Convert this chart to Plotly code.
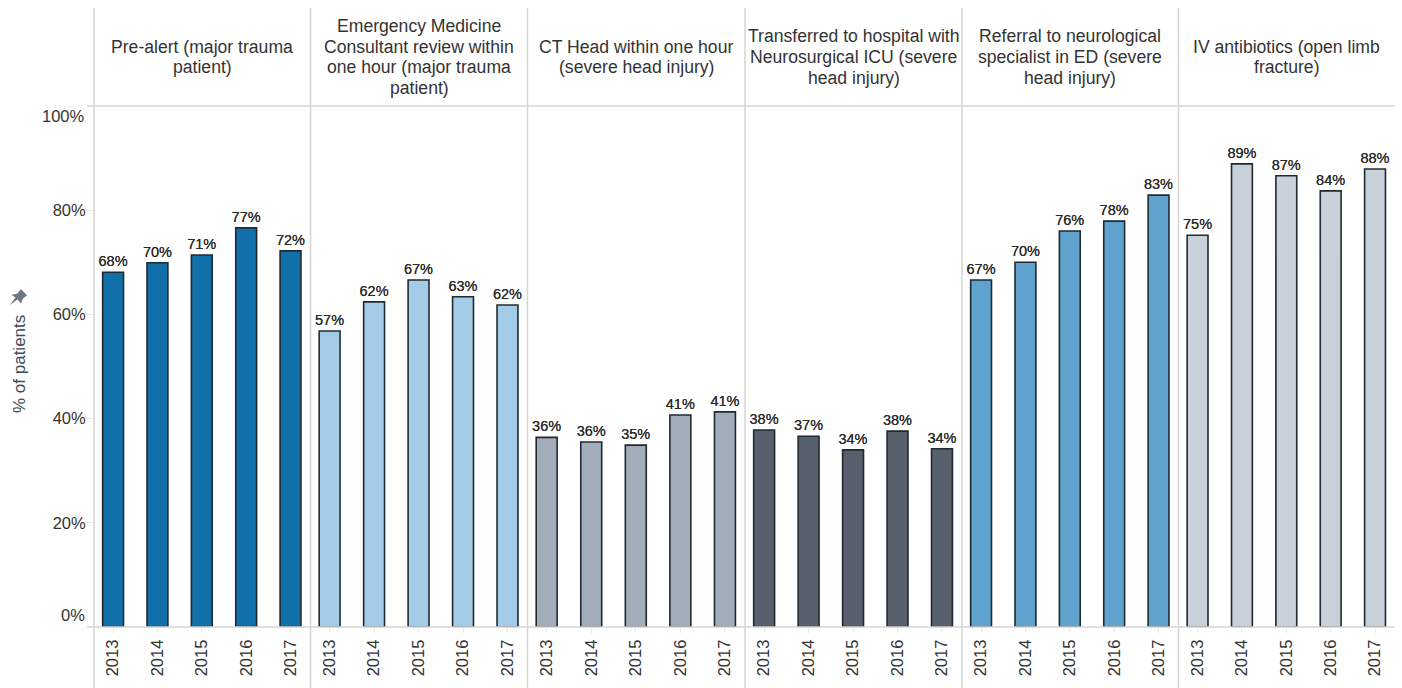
import plotly.graph_objects as go

years = ["2013", "2014", "2015", "2016", "2017"]
titles = [
    ["Pre-alert (major trauma", "patient)"],
    ["Emergency Medicine", "Consultant review within", "one hour (major trauma", "patient)"],
    ["CT Head within one hour", "(severe head injury)"],
    ["Transferred to hospital with", "Neurosurgical ICU (severe", "head injury)"],
    ["Referral to neurological", "specialist in ED (severe", "head injury)"],
    ["IV antibiotics (open limb", "fracture)"],
]
pre_alert = [68.1, 69.9, 71.4, 76.6, 72.2]
consultant = [56.8, 62.4, 66.6, 63.4, 61.8]
ct_head = [36.4, 35.5, 34.9, 40.7, 41.3]
transferred = [37.8, 36.6, 34.0, 37.6, 34.2]
referral = [66.6, 70.0, 76.0, 77.9, 82.9]
antibiotics = [75.2, 88.9, 86.6, 83.7, 87.9]
series = [pre_alert, consultant, ct_head, transferred, referral, antibiotics]
colors = ["#1170aa", "#a3cce9", "#a3acb9", "#57606c", "#5fa2ce", "#c8d0d9"]

W, H = 1402, 688
edges = [94, 310.5, 527.5, 745, 962, 1178.5, 1395]
y_top, y_bot = 106, 627
LINE = "#d4d4d4"
TEXT = "#333333"
FONT = "Liberation Sans, Arial, sans-serif"
HEAD_SIZE = 17.6
HEAD_LEADING = 20.6

fig = go.Figure()
layout = {}
annotations = []
shapes = []

for i, (vals, col, title) in enumerate(zip(series, colors, titles)):
    ax = "" if i == 0 else str(i + 1)
    fig.add_trace(go.Bar(
        x=years, y=vals, xaxis=f"x{ax}", yaxis="y",
        marker=dict(color=col, line=dict(color="#1f2a30", width=1.6)),
        width=0.47, text=[f"{v:.0f}%" for v in vals], textposition="outside",
        constraintext="none",
        textfont=dict(size=14.5, color="#2a2a2a", family=FONT, shadow="0 0 0.3px #333333"),
        cliponaxis=False, showlegend=False, hoverinfo="x+y",
    ))
    layout[f"xaxis{ax}"] = dict(
        domain=[edges[i] / W, edges[i + 1] / W], anchor="y", type="category",
        range=[-0.43, 4.45], showgrid=False, zeroline=False, showline=False,
        ticks="outside", ticklen=5, tickcolor="#e6e6e6", tickangle=-90,
        tickfont=dict(size=16.5, color=TEXT, family=FONT),
    )
    n = len(title)
    for k, line in enumerate(title):
        annotations.append(dict(
            xref="paper", yref="paper", x=(edges[i] + edges[i + 1]) / 2 / W,
            y=1 - (57 + (k - (n - 1) / 2) * HEAD_LEADING) / H, text=line, showarrow=False,
            xanchor="center", yanchor="middle",
            font=dict(size=HEAD_SIZE, color=TEXT, family=FONT),
        ))

for x in edges[:-1]:
    shapes.append(dict(type="line", xref="paper", yref="paper", x0=x / W, x1=x / W,
                       y0=0, y1=1 - 8 / H, line=dict(color=LINE, width=1.5)))
for y in (y_top, y_bot):
    shapes.append(dict(type="line", xref="paper", yref="paper", x0=87 / W, x1=edges[-1] / W,
                       y0=1 - y / H, y1=1 - y / H, line=dict(color=LINE, width=1.5)))

# pin icon next to the axis title
pin = [(10, 305), (15.5, 297.5), (11.5, 295), (17.5, 293.5), (21, 289), (27, 295.5),
       (23, 298.5), (21, 303.5), (17.5, 299.5)]
path = "M " + " L ".join(f"{x / W:.5f},{1 - y / H:.5f}" for x, y in pin) + " Z"
shapes.append(dict(type="path", xref="paper", yref="paper", path=path,
                   fillcolor="#6d7681", line=dict(width=0)))

# 0% and 100% labels sit inside the axis range in the reference
for v, shift in ((100, -10), (0, 12)):
    annotations.append(dict(
        xref="paper", yref="y", x=87 / W, y=v, yshift=shift, text=f"{v}%",
        showarrow=False, xanchor="right", yanchor="middle",
        font=dict(size=16.5, color=TEXT, family=FONT),
    ))
annotations.append(dict(
    xref="paper", yref="paper", x=19 / W, y=1 - 364 / H, text="% of patients",
    textangle=-90, showarrow=False, xanchor="center", yanchor="middle",
    font=dict(size=17, color="#3d4a55", family=FONT),
))

fig.update_layout(
    width=W, height=H, margin=dict(l=0, r=0, t=0, b=0, autoexpand=False),
    paper_bgcolor="white", plot_bgcolor="white",
    yaxis=dict(domain=[1 - y_bot / H, 1 - y_top / H], range=[0, 100],
               tickmode="array", tickvals=[20, 40, 60, 80], ticktext=["20%", "40%", "60%", "80%"],
               ticks="outside", ticklen=7, tickcolor="#e6e6e6", showgrid=False, zeroline=False,
               showline=False, ticklabelstandoff=-3,
               tickfont=dict(size=16.5, color=TEXT, family=FONT)),
    annotations=annotations, shapes=shapes, bargap=0.5,
    **layout,
)
fig.write_html("out.html", post_script="document.body.style.margin='0';",
               config={"displayModeBar": False})
